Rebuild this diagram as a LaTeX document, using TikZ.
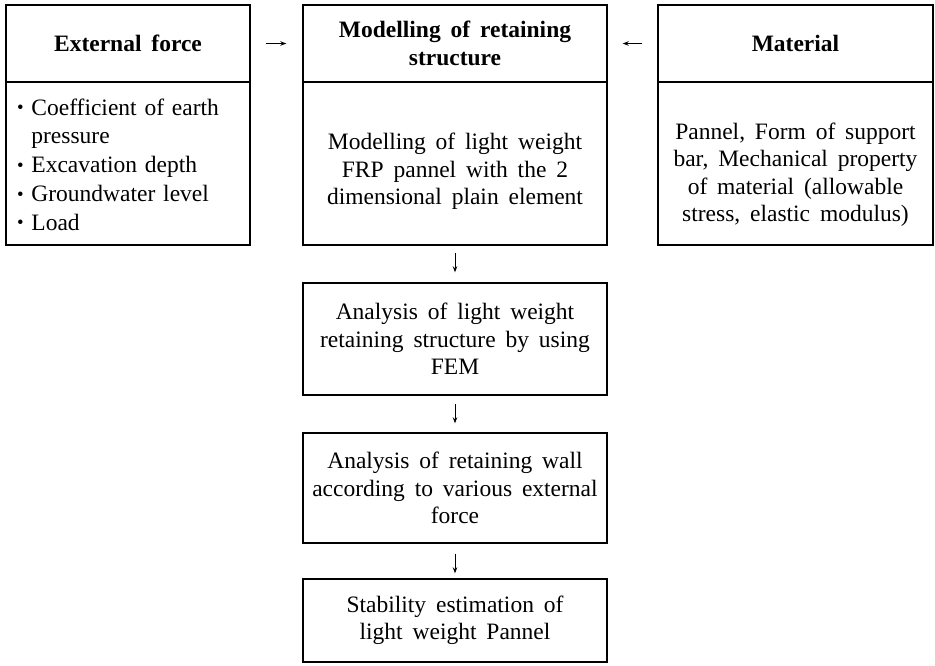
\documentclass[tikz,border=0pt]{standalone}
\usepackage{fontspec}
\setmainfont{Liberation Serif}
\usetikzlibrary{arrows.meta}
\newcommand\boxfont{\fontsize{23.5}{27.5}\selectfont\spaceskip=0.42em plus 0.1em\relax}
\newcommand\listfont{\fontsize{23.5}{28.7}\selectfont\spaceskip=0.42em plus 0.1em\relax}
\newcommand\dotitem{\raisebox{0.12ex}{\scalebox{0.8}{\textbullet}}\ }
\begin{document}
\begin{tikzpicture}[x=1pt,y=-1pt]
	\tikzstyle{box}=[draw,line width=1.4pt,inner sep=0pt,align=center,font=\boxfont]
	\tikzstyle{txt}=[inner sep=0pt,align=center,font=\boxfont]
	\tikzstyle{arr}=[-{Stealth[length=6pt,width=4.5pt]},line width=1pt]
	\useasboundingbox (0,0) rectangle (935,665);
	% top row
	\node[box,minimum width=244pt,minimum height=77pt] (ext_h) at (128,43.5) {\bfseries External force};
	\node[box,minimum width=244pt,minimum height=163pt] (ext_b) at (128,163.5) {};
	\node[txt,text width=222pt,align=left,font=\listfont] (ext_t) at ([yshift=-1pt]ext_b.center)
		{\dotitem Coefficient of earth\\\phantom{\dotitem}pressure\\\dotitem Excavation depth\\\dotitem Groundwater level\\\dotitem Load};
	\node[box,minimum width=304pt,minimum height=77pt] (mod_h) at (455,43.5) {\bfseries Modelling of retaining\\\bfseries structure};
	\node[box,minimum width=304pt,minimum height=163pt] (mod_b) at (455,163.5) {};
	\node[txt] (mod_t) at ([yshift=-8pt]mod_b.center)
		{Modelling of light weight\\FRP pannel with the 2\\dimensional plain element};
	\node[box,minimum width=275pt,minimum height=77pt] (mat_h) at (795.5,43.5) {\bfseries Material};
	\node[box,minimum width=275pt,minimum height=163pt] (mat_b) at (795.5,163.5) {};
	\node[txt] (mat_t) at ([yshift=-11pt]mat_b.center)
		{Pannel, Form of support\\bar, Mechanical property\\of material (allowable\\stress, elastic modulus)};
	% steps below
	\node[box,minimum width=304pt,minimum height=112pt] (s_1) at (455,339)
		{Analysis of light weight\\retaining structure by using\\FEM};
	\node[box,minimum width=304pt,minimum height=110pt] (s_2) at (455,488)
		{Analysis of retaining wall\\according to various external\\force};
	\node[box,minimum width=304pt,minimum height=83pt] (s_3) at (455,620.5)
		{Stability estimation of\\light weight Pannel};
	\draw[arr,shorten <=15pt,shorten >=16pt] (ext_h) -- (mod_h);
	\draw[arr,shorten <=15pt,shorten >=15pt] (mat_h) -- (mod_h);
	\draw[arr,shorten <=7pt,shorten >=10pt] (mod_b) -- (s_1);
	\draw[arr,shorten <=8pt,shorten >=9pt] (s_1) -- (s_2);
	\draw[arr,shorten <=10pt,shorten >=5pt] (s_2) -- (s_3);
\end{tikzpicture}
\end{document}
